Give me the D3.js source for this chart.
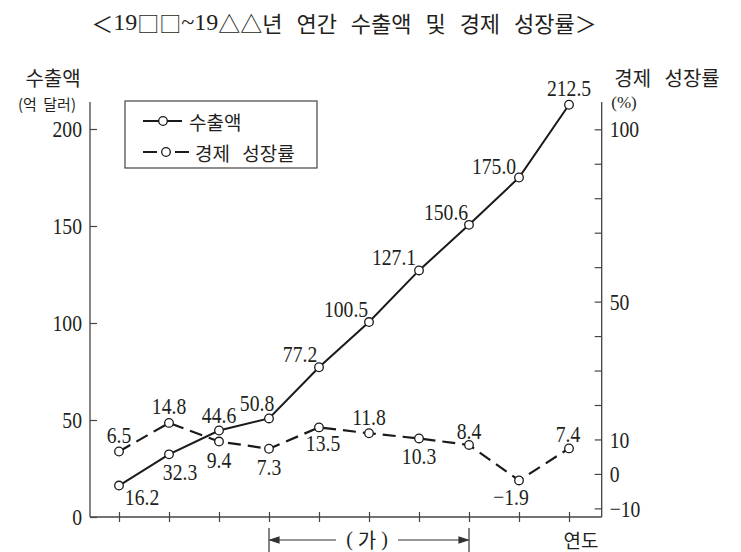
<!DOCTYPE html>
<meta charset="utf-8">
<head>
<style>
    body { margin: 0; background: #fff; }
    .num { font-family: "Liberation Serif", "DejaVu Serif", serif; fill: #231f20; }
    .kr { font-family: "Noto Sans CJK KR", "Noto Sans", sans-serif; fill: #231f20; }
</style>
</head>
<body>
<div id="chart"></div>
<script src="https://d3js.org/d3.v7.min.js"></script>
<script>
    // data
    let years = ['y1', 'y2', 'y3', 'y4', 'y5', 'y6', 'y7', 'y8', 'y9', 'y10'];
    let export_values = [16.2, 32.3, 44.6, 50.8, 77.2, 100.5, 127.1, 150.6, 175.0, 212.5];
    let growth_values = [6.5, 14.8, 9.4, 7.3, 13.5, 11.8, 10.3, 8.4, -1.9, 7.4];
    let left_ticks = [0, 50, 100, 150, 200];
    let right_ticks = [-10, 0, 10, 20, 30, 40, 50, 60, 70, 80, 90, 100];
    let right_tick_labels = [-10, 0, 10, 50, 100];
    let period_start = 'y4';
    let period_end = 'y8';

    // label offsets from each point
    let export_label_off = [[23, 11], [11, 17], [0, -16], [-12, -16], [-19, -13], [-23, -13], [-25, -14], [-23, -13], [-25, -12], [0, -17]];
    let growth_label_off = [[0, -17], [0, -17], [0, 18], [0, 18], [4, 15], [0, -16], [0, 17], [0, -14], [-8, 16], [-1, -15]];

    // chart setting
    let svgWidth = 741;
    let svgHeight = 552;
    let plot = {left: 90, right: 601.7, top: 102, bottom: 517};
    let ink = '#231f20';
    let sx = 0.82; // condensed serif digits
    let num_size = 24;

    let svg = d3.select('#chart')
        .append('svg')
        .attr('width', svgWidth)
        .attr('height', svgHeight)
        .style('background', '#fff');

    // scales
    let x = d3.scalePoint().domain(years).range([119, 569]);
    let y_left = d3.scaleLinear().domain([0, 200]).range([plot.bottom, 129]);
    let y_right = d3.scaleLinear().domain([-12.5, 100]).range([plot.bottom, 129.3]);
    let fmt1 = d3.format('.1f');
    let fmt0 = d3.format('d');

    function num_text(g, px, py, str, anchor, size) {
        return g.append('text')
            .attr('class', 'num')
            .attr('transform', `translate(${px}, ${py}) scale(${sx}, 1)`)
            .attr('text-anchor', anchor)
            .attr('dominant-baseline', 'central')
            .style('font-size', size + 'px')
            .text(str);
    }

    // title
    let title = svg.append('text')
        .attr('x', 344)
        .attr('y', 22)
        .attr('text-anchor', 'middle')
        .attr('dominant-baseline', 'central')
        .style('fill', ink)
        .style('font-size', '22px');
    title.append('tspan').attr('class', 'kr').text('＜');
    title.append('tspan').attr('class', 'num').style('font-size', '24px').text('19');
    title.append('tspan').attr('class', 'kr').text('□□');
    title.append('tspan').attr('class', 'num').style('font-size', '24px').text('~19');
    title.append('tspan').attr('class', 'kr').style('word-spacing', '9px').text('△△년 연간 수출액 및 경제 성장률');
    title.append('tspan').attr('class', 'kr').text('＞');

    // axis titles
    svg.append('text').attr('class', 'kr')
        .attr('x', 53).attr('y', 77)
        .attr('text-anchor', 'middle').attr('dominant-baseline', 'central')
        .style('font-size', '20px').text('수출액');
    svg.append('text').attr('class', 'kr')
        .attr('x', 47).attr('y', 103)
        .attr('text-anchor', 'middle').attr('dominant-baseline', 'central')
        .style('font-size', '15px').style('word-spacing', '3px').text('(억 달러)');
    svg.append('text').attr('class', 'kr')
        .attr('x', 667).attr('y', 77)
        .attr('text-anchor', 'middle').attr('dominant-baseline', 'central')
        .style('font-size', '20px').style('word-spacing', '9px').text('경제 성장률');
    svg.append('text').attr('class', 'num')
        .attr('x', 624).attr('y', 102)
        .attr('text-anchor', 'middle').attr('dominant-baseline', 'central')
        .style('font-size', '17px').text('(%)');

    // axes
    let left_axis = svg.append('g')
        .attr('transform', `translate(${plot.left}, 0)`)
        .call(d3.axisLeft(y_left).tickValues(left_ticks).tickSizeInner(-7).tickSizeOuter(0).tickPadding(8));
    let right_axis = svg.append('g')
        .attr('transform', `translate(${plot.right}, 0)`)
        .call(d3.axisRight(y_right).tickValues(right_ticks).tickSizeInner(-7).tickSizeOuter(0).tickPadding(8)
            .tickFormat(d => right_tick_labels.includes(d) ? fmt0(d) : ''));
    let bottom_axis = svg.append('g')
        .attr('transform', `translate(0, ${plot.bottom})`)
        .call(d3.axisBottom(x).tickSize(5).tickFormat(''));

    [left_axis, right_axis, bottom_axis].forEach(a => {
        a.select('.domain').remove();
        a.selectAll('line').attr('stroke', '#444').attr('stroke-width', 1.2);
        a.selectAll('text')
            .attr('class', 'num')
            .style('font-size', num_size + 'px')
            .attr('fill', ink);
    });
    left_axis.selectAll('text').attr('transform', `scale(${sx}, 1)`).attr('x', -8 / sx);
    right_axis.selectAll('text').attr('transform', `scale(${sx}, 1)`).attr('x', 8 / sx);
    bottom_axis.selectAll('.tick line').attr('y1', -5).attr('y2', 5);

    // frame lines
    svg.append('line').attr('x1', plot.left).attr('x2', plot.left).attr('y1', plot.top).attr('y2', plot.bottom)
        .attr('stroke', '#444').attr('stroke-width', 1.3);
    svg.append('line').attr('x1', plot.right).attr('x2', plot.right).attr('y1', plot.top).attr('y2', plot.bottom)
        .attr('stroke', '#444').attr('stroke-width', 1.3);
    svg.append('line').attr('x1', plot.left).attr('x2', plot.right).attr('y1', plot.bottom).attr('y2', plot.bottom)
        .attr('stroke', '#444').attr('stroke-width', 1.3);

    // lines
    let export_line = d3.line().x((d, i) => x(years[i])).y(d => y_left(d));
    let growth_line = d3.line().x((d, i) => x(years[i])).y(d => y_right(d));

    svg.append('path')
        .attr('d', growth_line(growth_values))
        .attr('fill', 'none')
        .attr('stroke', '#1a1a1a')
        .attr('stroke-width', 2.2)
        .attr('stroke-dasharray', '13,7');
    svg.append('path')
        .attr('d', export_line(export_values))
        .attr('fill', 'none')
        .attr('stroke', '#1a1a1a')
        .attr('stroke-width', 2);

    // points
    svg.selectAll('.gpt')
        .data(growth_values)
        .enter()
        .append('circle')
        .attr('class', 'gpt')
        .attr('cx', (d, i) => x(years[i]))
        .attr('cy', d => y_right(d))
        .attr('r', 4.3)
        .attr('fill', '#fff')
        .attr('stroke', '#1a1a1a')
        .attr('stroke-width', 1.3);
    svg.selectAll('.ept')
        .data(export_values)
        .enter()
        .append('circle')
        .attr('class', 'ept')
        .attr('cx', (d, i) => x(years[i]))
        .attr('cy', d => y_left(d))
        .attr('r', 4.3)
        .attr('fill', '#fff')
        .attr('stroke', '#1a1a1a')
        .attr('stroke-width', 1.3);

    // value labels
    export_values.forEach((d, i) => {
        num_text(svg, x(years[i]) + export_label_off[i][0], y_left(d) + export_label_off[i][1], fmt1(d), 'middle', num_size);
    });
    growth_values.forEach((d, i) => {
        num_text(svg, x(years[i]) + growth_label_off[i][0], y_right(d) + growth_label_off[i][1], fmt1(d), 'middle', num_size);
    });

    // legend
    let legend = svg.append('g');
    legend.append('rect')
        .attr('x', 125).attr('y', 101).attr('width', 192).attr('height', 67)
        .attr('fill', '#fff').attr('stroke', '#444').attr('stroke-width', 1.2);
    legend.append('line').attr('x1', 143).attr('x2', 182).attr('y1', 121).attr('y2', 121)
        .attr('stroke', '#1a1a1a').attr('stroke-width', 2);
    legend.append('circle').attr('cx', 163).attr('cy', 121).attr('r', 4.3)
        .attr('fill', '#fff').attr('stroke', '#1a1a1a').attr('stroke-width', 1.3);
    legend.append('text').attr('class', 'kr')
        .attr('x', 189).attr('y', 121).attr('dominant-baseline', 'central')
        .style('font-size', '19px').text('수출액');
    legend.append('line').attr('x1', 143).attr('x2', 189).attr('y1', 152).attr('y2', 152)
        .attr('stroke', '#1a1a1a').attr('stroke-width', 2.2).attr('stroke-dasharray', '14,18,14');
    legend.append('circle').attr('cx', 166).attr('cy', 152).attr('r', 4.3)
        .attr('fill', '#fff').attr('stroke', '#1a1a1a').attr('stroke-width', 1.3);
    legend.append('text').attr('class', 'kr')
        .attr('x', 195).attr('y', 152).attr('dominant-baseline', 'central')
        .style('font-size', '19px').style('word-spacing', '8px').text('경제 성장률');

    // x axis name
    svg.append('text').attr('class', 'kr')
        .attr('x', 581).attr('y', 539)
        .attr('text-anchor', 'middle').attr('dominant-baseline', 'central')
        .style('font-size', '19px').text('연도');

    // period bracket (가)
    let px0 = x(period_start);
    let px1 = x(period_end);
    let by = 540;
    let bracket = svg.append('g').attr('stroke', '#333').attr('stroke-width', 1.2).attr('fill', 'none');
    bracket.append('line').attr('x1', px0).attr('x2', px0).attr('y1', 528).attr('y2', 552);
    bracket.append('line').attr('x1', px1).attr('x2', px1).attr('y1', 528).attr('y2', 552);
    bracket.append('line').attr('x1', px0 + 1).attr('x2', 336).attr('y1', by).attr('y2', by);
    bracket.append('line').attr('x1', 398).attr('x2', px1 - 1).attr('y1', by).attr('y2', by);
    bracket.append('path').attr('d', `M${px0 + 1},${by} l9,-3 l0,6 z`).attr('fill', '#333');
    bracket.append('path').attr('d', `M${px1 - 1},${by} l-9,-3 l0,6 z`).attr('fill', '#333');
    let ga = svg.append('text')
        .attr('x', 367).attr('y', by - 1)
        .attr('text-anchor', 'middle').attr('dominant-baseline', 'central')
        .style('fill', ink).style('font-size', '20px');
    ga.append('tspan').attr('class', 'num').text('( ');
    ga.append('tspan').attr('class', 'kr').text('가');
    ga.append('tspan').attr('class', 'num').text(' )');
</script>
</body>
